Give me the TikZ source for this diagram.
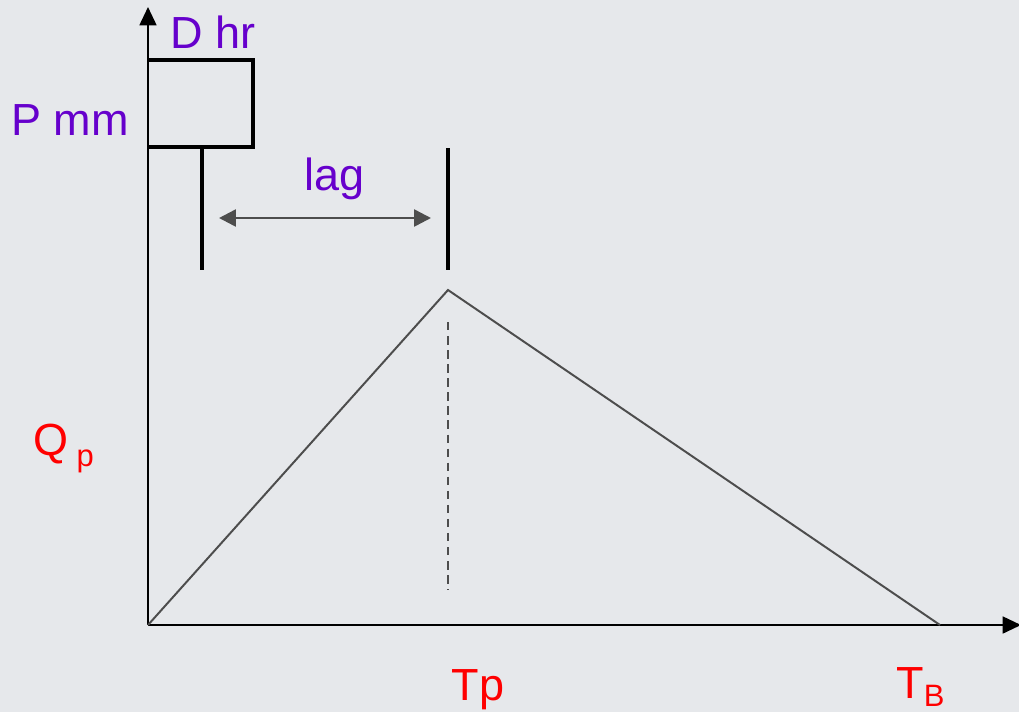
\documentclass[tikz,border=0pt]{standalone}
\usepackage{fontspec}
\setmainfont{Liberation Sans}
\usepackage{xcolor}
\usetikzlibrary{arrows.meta}
\definecolor{bgcol}{HTML}{E6E8EB}
\definecolor{lagcol}{HTML}{6600CC}
\definecolor{linecol}{HTML}{4D4D4D}
\newcommand{\bigfont}{\fontsize{32}{36}\selectfont}
\newcommand{\subfont}{\fontsize{22}{24}\selectfont}

\begin{document}
\begin{tikzpicture}[x=0.025cm, y=-0.025cm,
  every node/.style={font=\bigfont, inner sep=0pt, anchor=base},
  axis/.style={black, line width=1.4pt, -{Triangle[length=13pt,width=12pt]}},
  rain/.style={black, line width=2.2pt},
  hydro/.style={linecol, line width=1.4pt},
  dim/.style={linecol, line width=1.8pt, {Triangle[length=12pt,width=12pt]}-{Triangle[length=12pt,width=12pt]}}]
  \fill[bgcol] (0,0) rectangle (1019,712);
  \useasboundingbox (0,0) rectangle (1019,712);
  % axes
  \coordinate (O) at (148,625);
  \coordinate (ytop) at (148,7);
  \coordinate (xend) at (1021,625);
  \draw[axis] (O) -- (ytop);
  \draw[axis] (O) -- (xend);
  % rainfall block
  \draw[rain] (148,60) -- (253,60) -- (253,147) -- (148,147);
  \coordinate (r1) at (202,147);
  \coordinate (r2) at (202,270);
  \draw[rain] (r1) -- (r2);
  \coordinate (p1) at (448,148);
  \coordinate (p2) at (448,270);
  \draw[rain] (p1) -- (p2);
  % lag
  \coordinate (la) at (219,218);
  \coordinate (lb) at (431,218);
  \draw[dim] (la) -- (lb);
  % hydrograph
  \coordinate (pk) at (448,290);
  \coordinate (tb) at (940,625);
  \draw[hydro] (O) -- (pk) -- (tb);
  \coordinate (d1) at (448,322);
  \coordinate (d2) at (448,590);
  \draw[linecol, line width=1.4pt, dash pattern=on 6pt off 4pt] (d1) -- (d2);
  % labels
  \node[text=lagcol] (dhr) at (213,48) {D hr};
  \node[text=lagcol] (pmm) at (70,135) {P mm};
  \node[text=lagcol] (lag) at (335,190) {lag};
  \node[text=red, anchor=base west] (qp) at (33,455) {Q\hspace{6pt}\raisebox{-8pt}{\subfont p}};
  \node[text=red] (tp) at (478,700) {Tp};
  \node[text=red, anchor=base west] (tbl) at (896,698) {T\raisebox{-6pt}{\subfont B}};
\end{tikzpicture}
\end{document}
